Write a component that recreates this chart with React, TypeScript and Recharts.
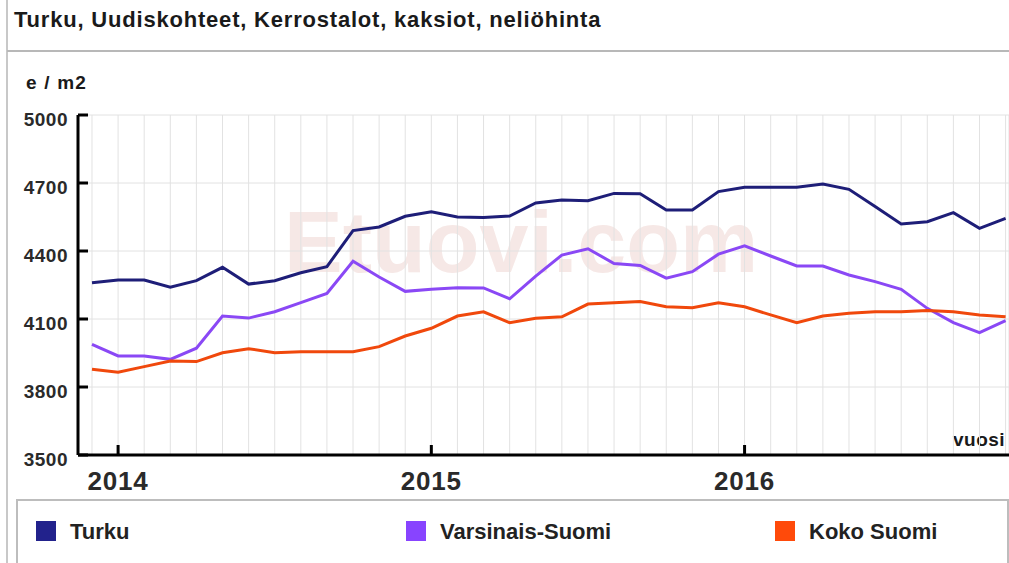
import React from 'react';
import { LineChart, Line, XAxis, YAxis, CartesianGrid } from 'recharts';

const months = [
  '2013-12',
  '2014-01', '2014-02', '2014-03', '2014-04', '2014-05', '2014-06', '2014-07', '2014-08', '2014-09', '2014-10', '2014-11', '2014-12',
  '2015-01', '2015-02', '2015-03', '2015-04', '2015-05', '2015-06', '2015-07', '2015-08', '2015-09', '2015-10', '2015-11', '2015-12',
  '2016-01', '2016-02', '2016-03', '2016-04', '2016-05', '2016-06', '2016-07', '2016-08', '2016-09', '2016-10', '2016-11',
];

const turku = [
  4260, 4272, 4272, 4240, 4269, 4328, 4254, 4269, 4304, 4331, 4490, 4506,
  4553, 4573, 4550, 4548, 4554, 4612, 4625, 4622, 4654, 4653, 4581, 4581,
  4662, 4681, 4681, 4681, 4696, 4672, 4596, 4519, 4529, 4569, 4500, 4544,
];

const varsinais = [
  3988, 3937, 3937, 3922, 3971, 4113, 4104, 4132, 4172, 4213, 4355, 4285,
  4222, 4231, 4238, 4237, 4189, 4289, 4382, 4410, 4345, 4336, 4280, 4309,
  4386, 4423, 4378, 4334, 4334, 4294, 4265, 4231, 4147, 4084, 4040, 4093,
];

const koko = [
  3878, 3865, 3890, 3915, 3912, 3951, 3969, 3951, 3956, 3956, 3956, 3978,
  4025, 4059, 4113, 4132, 4084, 4103, 4110, 4166, 4172, 4177, 4154, 4150,
  4172, 4154, 4118, 4084, 4113, 4125, 4132, 4132, 4137, 4132, 4118, 4110,
];

const yTicks = [3500, 3800, 4100, 4400, 4700, 5000];
const seriesNames = ['Turku', 'Varsinais-Suomi', 'Koko Suomi'];
const lineColors = ['#1e1e78', '#8a48f5', '#f0480c'];
const legendColors = ['#22228c', '#8844ff', '#ff4a0a'];

const data = months.map((m, i) => ({
  i,
  month: m,
  turku: turku[i],
  varsinais: varsinais[i],
  koko: koko[i],
}));

const FONT = '"Liberation Sans", Arial, Helvetica, sans-serif';

const XTick = (props: any) => {
  const { x, y, payload } = props;
  const label = months[payload.value];
  if (!label || !label.endsWith('-01')) return <g />;
  return (
    <g>
      <line x1={x} x2={x} y1={y} y2={y - 10} stroke="#000" strokeWidth={3} />
      <text
        x={x}
        y={y + 35}
        textAnchor="middle"
        fontFamily={FONT}
        fontWeight="bold"
        fontSize={26}
        letterSpacing={0.8}
        fill="#2a2a2a"
      >
        {label.slice(0, 4)}
      </text>
    </g>
  );
};

const YTick = (props: any) => {
  const { x, y, payload } = props;
  return (
    <g>
      <line x1={x} x2={x + 10} y1={y} y2={y} stroke="#000" strokeWidth={3} />
      <text
        x={x - 10}
        y={y + 11}
        textAnchor="end"
        fontFamily={FONT}
        fontWeight="bold"
        fontSize={19}
        letterSpacing={0.5}
        fill="#2a2a2a"
      >
        {payload.value}
      </text>
    </g>
  );
};

const legendX = [36, 406, 775];

export default function App() {
  return (
    <div style={{ position: 'absolute', left: 0, top: 0, width: 1009, height: 563, background: '#fff', overflow: 'hidden' }}>
      <svg width={1009} height={563} style={{ position: 'absolute', left: 0, top: 0 }}>
        <line x1={7} x2={7} y1={0} y2={563} stroke="#c8c8c8" strokeWidth={2} />
        <line x1={7} x2={1009} y1={51} y2={51} stroke="#b8b8b8" strokeWidth={2} />
        <text x={14} y={27} fontFamily={FONT} fontWeight="bold" fontSize={22} letterSpacing={0.8} fill="#1a1a1a">
          Turku, Uudiskohteet, Kerrostalot, kaksiot, neliöhinta
        </text>
        <text x={26} y={89} fontFamily={FONT} fontWeight="bold" fontSize={19} letterSpacing={1.2} fill="#1a1a1a">
          e / m2
        </text>
        <text x={284} y={272} fontFamily={FONT} fontWeight="bold" fontSize={88} fill="#f6e8e6">
          Etuovi.com
        </text>
        <text x={953} y={446} fontFamily={FONT} fontWeight="bold" fontSize={19} letterSpacing={0.5} fill="#1a1a1a">
          vuosi
        </text>
        <rect x={17} y={500} width={991} height={80} fill="none" stroke="#bdbdbd" strokeWidth={2} />
        {seriesNames.map((n, k) => (
          <g key={n}>
            <rect x={legendX[k]} y={521} width={20} height={20} fill={legendColors[k]} />
            <text x={legendX[k] + 34} y={539} fontFamily={FONT} fontWeight="bold" fontSize={22} fill="#222">
              {n}
            </text>
          </g>
        ))}
      </svg>
      <LineChart
        width={1009}
        height={563}
        data={data}
        margin={{ top: 115, right: 0, bottom: 58, left: 0 }}
        style={{ position: 'absolute', left: 0, top: 0 }}
      >
        <CartesianGrid stroke="#e2e2e2" strokeWidth={1} />
        <XAxis
          dataKey="i"
          type="number"
          domain={[-0.536, 35.13]}
          allowDataOverflow
          ticks={months.map((_, i) => i)}
          interval={0}
          tickSize={0}
          tickMargin={0}
          tickLine={false}
          axisLine={{ stroke: '#000', strokeWidth: 3 }}
          height={50}
          tick={<XTick />}
        />
        <YAxis
          type="number"
          domain={[3500, 5000]}
          ticks={yTicks}
          interval={0}
          width={78}
          tickSize={0}
          tickMargin={0}
          tickLine={false}
          axisLine={{ stroke: '#000', strokeWidth: 3 }}
          tick={<YTick />}
        />
        <Line dataKey="turku" name={seriesNames[0]} stroke={lineColors[0]} strokeWidth={3} dot={false} type="linear" isAnimationActive={false} />
        <Line dataKey="varsinais" name={seriesNames[1]} stroke={lineColors[1]} strokeWidth={3} dot={false} type="linear" isAnimationActive={false} />
        <Line dataKey="koko" name={seriesNames[2]} stroke={lineColors[2]} strokeWidth={3} dot={false} type="linear" isAnimationActive={false} />
      </LineChart>
    </div>
  );
}
